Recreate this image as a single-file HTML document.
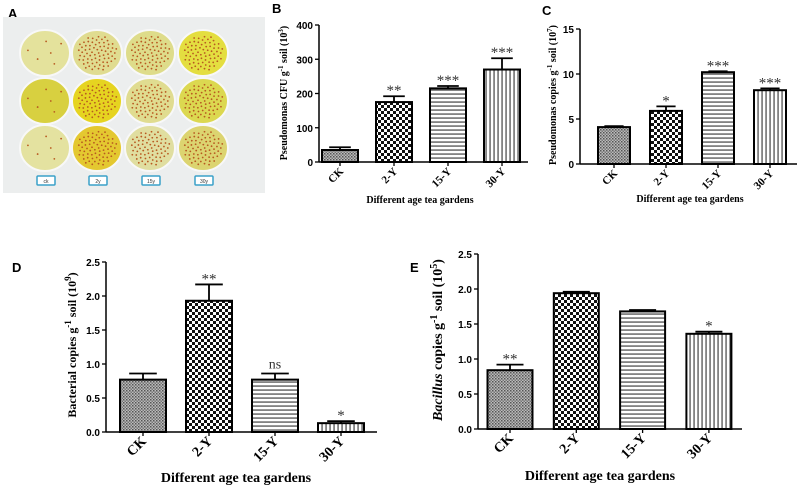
<!DOCTYPE html>
<html><head><meta charset="utf-8"><style>
html,body{margin:0;padding:0;background:#fff;}
svg{display:block;}
.tk{font:bold 10px "Liberation Sans",sans-serif;}
.ser{font-family:"Liberation Serif",serif;font-weight:bold;}
</style></head><body>
<svg id="fig" width="800" height="491" viewBox="0 0 800 491" xmlns="http://www.w3.org/2000/svg">
<defs>
<pattern id="pCK" width="3" height="3" patternUnits="userSpaceOnUse"><rect width="3" height="3" fill="#bbb"/><rect width="1.5" height="1.5" fill="#555"/><rect x="1.5" y="1.5" width="1.5" height="1.5" fill="#777"/></pattern>
<pattern id="p2Y" width="6" height="6" patternUnits="userSpaceOnUse"><rect width="6" height="6" fill="#fff"/><rect width="3" height="3" fill="#111"/><rect x="3" y="3" width="3" height="3" fill="#111"/></pattern>
<pattern id="p15Y" width="4" height="4" patternUnits="userSpaceOnUse"><rect width="4" height="4" fill="#fff"/><rect y="1.5" width="4" height="1.1" fill="#333"/></pattern>
<pattern id="p30Y" width="4" height="4" patternUnits="userSpaceOnUse"><rect width="4" height="4" fill="#fff"/><rect x="1.5" width="1.1" height="4" fill="#333"/></pattern>
</defs>
<text x="8" y="18" font-family="Liberation Sans" font-weight="bold" font-size="13">A</text>
<g id="photo">
<rect x="3" y="17" width="262" height="176" fill="#eceeee"/>
</g>
<g id="panels"></g>
</svg>
<script>
const categories = ["CK","2-Y","15-Y","30-Y"];
const valuesB = [35,175,215,270];
const errorsB = [43,192,222,303];
const sigB = ["","**","***","***"];
const ticksB = [0,100,200,300,400];
const valuesC = [4.1,5.9,10.2,8.2];
const errorsC = [4.2,6.4,10.3,8.4];
const sigC = ["","*","***","***"];
const ticksC = [0,5,10,15];
const valuesD = [0.77,1.93,0.77,0.13];
const errorsD = [0.86,2.17,0.86,0.16];
const sigD = ["","**","ns","*"];
const ticksD = [0,0.5,1.0,1.5,2.0,2.5];
const valuesE = [0.84,1.94,1.68,1.36];
const errorsE = [0.92,1.96,1.70,1.39];
const sigE = ["**","","","*"];
const ticksE = [0,0.5,1.0,1.5,2.0,2.5];

const NS="http://www.w3.org/2000/svg";
const fig=document.getElementById('panels');
function mk(tag,attrs,parent,text){const e=document.createElementNS(NS,tag);for(const k in attrs)e.setAttribute(k,attrs[k]);if(text!==undefined)e.textContent=text;(parent||fig).appendChild(e);return e;}

const photo=document.getElementById('photo');
const pcx=[45,97,150,203], pcy=[53,101,148];
const pfill=[["#e4e29c","#e0dc90","#dedc8a","#e4de40"],["#d8d040","#e6d420","#e0dc90","#dcd850"],["#e4e2a0","#e4c830","#e0dea0","#dcd470"]];
pcy.forEach((y,r)=>pcx.forEach((x,c)=>{
  const el=mk('ellipse',{cx:x,cy:y,rx:25,ry:23,fill:pfill[r][c],stroke:'#f8f8f8','stroke-width':2},photo);
  
  
  const n=c===0?6:70;
  for(let i=0;i<n;i++){const a=i*2.399,rr=20*Math.sqrt((i+0.5)/n);mk('circle',{cx:x+rr*Math.cos(a),cy:y+rr*0.9*Math.sin(a),r:0.9,fill:'#b85a20'},photo);}
}));
["ck","2y","15y","30y"].forEach((t,i)=>{
  const g=mk('g',{},photo);
  
  
  mk('rect',{x:pcx[i]-8,y:176,width:18,height:9,fill:'#fff',stroke:'#3aa0c8','stroke-width':1.5,rx:1},g);
  mk('text',{x:pcx[i]+1,y:183,'font-size':5,'text-anchor':'middle','font-family':'Liberation Sans',fill:'#333'},g,t);
});

function panel(o){
  const g=mk('g',{});
  
  
  const y=v=>o.y0-(v-o.ticks[0])/(o.ticks[o.ticks.length-1]-o.ticks[0])*(o.y0-o.y1);
  const L=mk('text',{x:o.lx,y:o.ly,'font-family':'Liberation Sans','font-weight':'bold','font-size':13},g,o.id.toUpperCase());
  
  
  mk('line',{x1:o.ax,y1:o.y1,x2:o.ax,y2:o.y0,stroke:'#000','stroke-width':1.5},g);
  mk('line',{x1:o.ax,y1:o.y0,x2:o.xend,y2:o.y0,stroke:'#000','stroke-width':1.5},g);
  o.ticks.forEach(t=>{
    mk('line',{x1:o.ax-4,y1:y(t),x2:o.ax,y2:y(t),stroke:'#000','stroke-width':1.3},g);
    const tl=mk('text',{x:o.ax-6,y:y(t)+4,'text-anchor':'end',class:'tk','font-size':o.fs},g,o.dec?t.toFixed(1):String(t));
    
    
  });
  const pats=['pCK','p2Y','p15Y','p30Y'];
  categories.forEach((c,i)=>{
    const cx=o.bx0+i*o.step, x=cx-o.bw/2;
    mk('line',{x1:cx,y1:o.y0,x2:cx,y2:o.y0+4,stroke:'#000','stroke-width':1.3},g);
    const b=mk('rect',{x:x,y:y(o.vals[i]),width:o.bw,height:o.y0-y(o.vals[i]),fill:'url(#'+pats[i]+')',stroke:'#000','stroke-width':2},g);
    
    
    const ey=y(o.errs[i]);
    mk('line',{x1:cx,y1:ey,x2:cx,y2:y(o.vals[i]),stroke:'#000','stroke-width':1.8},g);
    mk('line',{x1:cx-o.bw*0.3,y1:ey,x2:cx+o.bw*0.3,y2:ey,stroke:'#000','stroke-width':1.8},g);
    if(o.sig[i]){const s=mk('text',{x:cx,y:ey-(o.sig[i]==='ns'?5:1),'text-anchor':'middle','font-family':'Liberation Serif','font-size':o.sig[i]==='ns'?14:15,fill:'#333'},g,o.sig[i]);
      
      }
    const tl=mk('text',{transform:`translate(${cx+4},${o.y0+10}) rotate(-45)`,'text-anchor':'end',class:'ser','font-size':o.tfs},g,c);
    
    
  });
  const xt=mk('text',{x:o.xtx,y:o.xty,'text-anchor':'middle',class:'ser','font-size':o.xfs},g,'Different age tea gardens');
  
  
  const yt=mk('text',{transform:`translate(${o.ytx},${o.yty}) rotate(-90)`,'text-anchor':'middle',class:'ser','font-size':o.yfs},g);
  
  
  yt.innerHTML=o.ytitle;
}
panel({id:'b',lx:272,ly:13,ax:319,y0:162,y1:25,xend:528,bx0:340,step:54,bw:36,vals:valuesB,errs:errorsB,sig:sigB,ticks:ticksB,dec:false,fs:11,tfs:11,xfs:10,yfs:10,
  xtx:420,xty:203,ytx:287,yty:93,ytitle:'Pseudomonas CFU g<tspan dy="-4" font-size="7">-1</tspan><tspan dy="4"> soil (10</tspan><tspan dy="-4" font-size="7">3</tspan><tspan dy="4">)</tspan>'});
panel({id:'c',lx:542,ly:15,ax:580,y0:164,y1:29,xend:797,bx0:614,step:52,bw:32,vals:valuesC,errs:errorsC,sig:sigC,ticks:ticksC,dec:false,fs:11,tfs:11,xfs:10,yfs:10,
  xtx:690,xty:202,ytx:556,yty:95,ytitle:'Pseudomonas copies g<tspan dy="-4" font-size="7">-1</tspan><tspan dy="4"> soil (10</tspan><tspan dy="-4" font-size="7">7</tspan><tspan dy="4">)</tspan>'});
panel({id:'d',lx:12,ly:272,ax:106,y0:432,y1:262,xend:377,bx0:143,step:66,bw:46,vals:valuesD,errs:errorsD,sig:sigD,ticks:ticksD,dec:true,fs:12,tfs:14,xfs:14,yfs:12,
  xtx:236,xty:482,ytx:76,yty:345,ytitle:'Bacterial copies g<tspan dy="-5" font-size="9">-1</tspan><tspan dy="5"> soil (10</tspan><tspan dy="-5" font-size="9">9</tspan><tspan dy="5">)</tspan>'});
panel({id:'e',lx:410,ly:272,ax:478,y0:429,y1:254,xend:742,bx0:510,step:66.3,bw:45,vals:valuesE,errs:errorsE,sig:sigE,ticks:ticksE,dec:true,fs:12,tfs:14,xfs:14,yfs:14,
  xtx:600,xty:480,ytx:442,yty:340,ytitle:'<tspan font-style="italic">Bacillus</tspan> copies g<tspan dy="-5" font-size="10">-1</tspan><tspan dy="5"> soil (10</tspan><tspan dy="-5" font-size="10">5</tspan><tspan dy="5">)</tspan>'});
</script>
</body></html>
